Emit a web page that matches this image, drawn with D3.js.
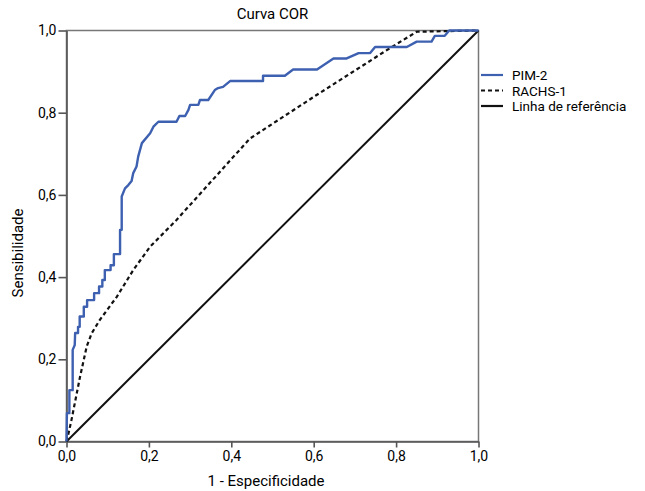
<html>
<meta charset="utf-8">
<style>
body { margin: 0; background: #fff; }
text { font-family: "Roboto", "DejaVu Sans", sans-serif; fill: #000; }
.axis text { font-size: 14px; }
.axis path, .axis line { stroke: #555; stroke-width: 1.6; }
</style>
<body>
<script src="https://cdn.jsdelivr.net/npm/d3@7"></script>
<script>

// ROC points: [1 - especificidade, sensibilidade]
var pim2 = [
  [0,0],[0.001,0.069],[0.007,0.069],[0.007,0.125],[0.015,0.125],[0.015,0.223],
  [0.02,0.235],[0.021,0.264],[0.028,0.264],[0.028,0.279],[0.032,0.279],[0.032,0.304],
  [0.042,0.304],[0.042,0.328],[0.05,0.328],[0.05,0.344],[0.067,0.344],[0.067,0.361],
  [0.079,0.361],[0.079,0.377],[0.087,0.377],[0.087,0.393],[0.093,0.393],[0.093,0.417],
  [0.107,0.417],[0.107,0.429],[0.115,0.429],[0.115,0.456],[0.13,0.456],[0.13,0.515],
  [0.134,0.515],[0.134,0.596],[0.142,0.616],[0.15,0.624],[0.158,0.634],[0.162,0.653],
  [0.17,0.669],[0.174,0.693],[0.183,0.726],[0.203,0.75],[0.211,0.766],[0.223,0.778],
  [0.267,0.778],[0.274,0.792],[0.288,0.792],[0.296,0.807],[0.30,0.819],[0.32,0.819],
  [0.324,0.831],[0.344,0.831],[0.36,0.855],[0.368,0.86],[0.38,0.863],[0.397,0.877],
  [0.477,0.877],[0.477,0.89],[0.53,0.89],[0.55,0.905],[0.608,0.905],[0.648,0.932],
  [0.68,0.932],[0.709,0.945],[0.737,0.945],[0.749,0.96],[0.826,0.96],[0.85,0.973],
  [0.886,0.973],[0.894,0.987],[0.918,0.987],[0.929,1],[1,1]
];

var rachs1 = [
  [0,0],[0.005,0.02],[0.012,0.052],[0.033,0.158],[0.049,0.231],[0.061,0.263],
  [0.081,0.296],[0.122,0.352],[0.162,0.417],[0.203,0.474],[0.267,0.539],
  [0.445,0.737],[0.607,0.843],[0.785,0.957],[0.85,0.997],[1,1]
];

var referencia = [[0,0],[1,1]];

var ticks = [0, 0.2, 0.4, 0.6, 0.8, 1.0];
var legendNames = ['PIM-2', 'RACHS-1', 'Linha de referência'];

var width = 645, height = 491;
var plotLeft = 66.5, plotRight = 478.5, plotTop = 30.5, plotBottom = 441.5;

var svg = d3.select("body").append("svg")
    .attr("width", width)
    .attr("height", height);

var x = d3.scaleLinear().domain([0, 1]).range([plotLeft, plotRight]);
var y = d3.scaleLinear().domain([0, 1]).range([plotBottom, plotTop]);
var fmt = function(d){ return d3.format(".1f")(d).replace(".", ","); };

// frame
svg.append("rect")
    .attr("x", plotLeft).attr("y", plotTop)
    .attr("width", plotRight - plotLeft).attr("height", plotBottom - plotTop)
    .attr("fill", "none").attr("stroke", "#777").attr("stroke-width", 1.5);

svg.append("g").attr("class", "axis")
    .attr("transform", "translate(" + plotLeft + ",0)")
    .call(d3.axisLeft(y).tickValues(ticks).tickFormat(fmt).tickSize(8).tickPadding(2).tickSizeOuter(0));

svg.append("g").attr("class", "axis")
    .attr("transform", "translate(0," + plotBottom + ")")
    .call(d3.axisBottom(x).tickValues(ticks).tickFormat(fmt).tickSize(6).tickPadding(4).tickSizeOuter(0));

var line = d3.line().x(function(d){ return x(d[0]); }).y(function(d){ return y(d[1]); });

svg.append("path").datum(referencia).attr("d", line)
    .attr("fill", "none").attr("stroke", "#111").attr("stroke-width", 2);
svg.append("path").datum(rachs1).attr("d", line)
    .attr("fill", "none").attr("stroke", "#111").attr("stroke-width", 2.2)
    .attr("stroke-dasharray", "4,3");
svg.append("path").datum(pim2).attr("d", line)
    .attr("fill", "none").attr("stroke", "#3d60b0").attr("stroke-width", 2.4)
    .attr("stroke-linejoin", "round");

// titles
svg.append("text").attr("x", (plotLeft + plotRight) / 2).attr("y", 19)
    .attr("text-anchor", "middle").style("font-size", "15px").text("Curva COR");
svg.append("text").attr("x", 266).attr("y", 486)
    .attr("text-anchor", "middle").style("font-size", "15px").text("1 - Especificidade");
svg.append("text").attr("transform", "translate(23,253) rotate(-90)")
    .attr("text-anchor", "middle").style("font-size", "15px").text("Sensibilidade");

// legend
var styles = [
  {stroke: "#3d60b0", dash: null},
  {stroke: "#111", dash: "4,3"},
  {stroke: "#111", dash: null}
];
var lg = svg.append("g").selectAll("g").data(legendNames).enter().append("g")
    .attr("transform", function(d, i){ return "translate(481," + (75 + i * 15.5) + ")"; });
lg.append("line").attr("x1", 0).attr("x2", 22).attr("y1", 0).attr("y2", 0)
    .attr("stroke", function(d, i){ return styles[i].stroke; })
    .attr("stroke-width", 2.2)
    .attr("stroke-dasharray", function(d, i){ return styles[i].dash; });
lg.append("text").attr("x", 31).attr("y", 5)
    .style("font-size", "13.5px").text(function(d){ return d; });

</script>
</body>
</html>
